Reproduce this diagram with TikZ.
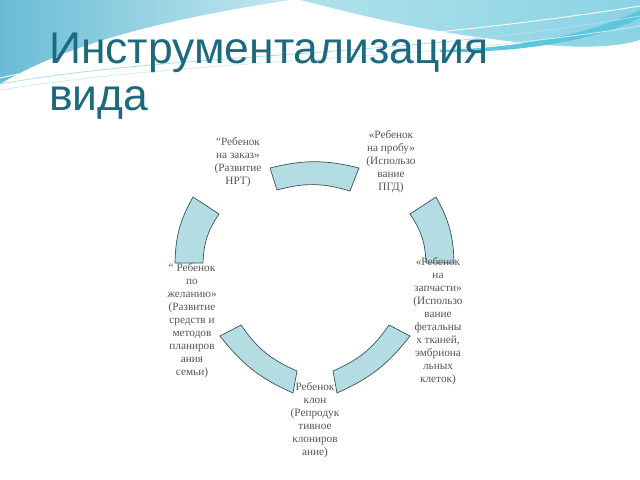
\documentclass[tikz,border=0pt]{standalone}
\usepackage{fontspec}
\setmainfont{Liberation Serif}
\newfontfamily\titlefam{Liberation Sans}
\definecolor{arcfill}{HTML}{B3DDE2}
\definecolor{arcdraw}{HTML}{3D5257}
\definecolor{textgray}{HTML}{555555}
\definecolor{titlecol}{HTML}{1D6A7E}
\definecolor{waveA}{HTML}{6ABCD4}
\definecolor{waveB}{HTML}{C4E8F1}
\definecolor{waveC}{HTML}{B0E1EC}
\definecolor{waveD}{HTML}{8AD3E4}
\definecolor{waveE}{HTML}{5CC6DE}
\begin{document}
\begin{tikzpicture}[x=0.025cm,y=-0.025cm,
  arcseg/.style={fill=arcfill, draw=arcdraw, line width=0.5pt, line join=miter},
  lbl/.style={font=\fontsize{8}{9.25}\selectfont, text=textgray, align=center, inner sep=0pt},
  titletext/.style={font=\titlefam\fontsize{31.6}{32}\selectfont, text=titlecol, inner sep=0pt, anchor=base west},
  streak/.style={line width=0.6pt}]
\useasboundingbox (0,0) rectangle (640,480);
\fill[white] (0,0) rectangle (640,480);
% background waves
\shade[left color=waveA, right color=waveB] (0,0) -- (290,0) .. controls (200,14) and (80,36) .. (0,84) -- cycle;
\shade[left color=waveC, right color=waveD] (300,0) -- (640,0) -- (640,40) .. controls (600,52) and (540,46) .. (470,36) .. controls (400,26) and (340,10) .. (300,0) -- cycle;
\fill[waveE] (440,50) .. controls (530,48) and (600,30) .. (640,10) -- (640,18) .. controls (600,38) and (530,53) .. (440,52) -- cycle;
\draw[streak, white] (0,78) .. controls (150,44) and (350,52) .. (640,6);
\draw[streak, waveD!70] (0,84) .. controls (180,52) and (400,58) .. (640,16);
\draw[streak, waveC!60] (0,90) .. controls (200,58) and (420,62) .. (640,26);
% title
\node[titletext] (title1) at (49,64) {Инструментализация};
\node[titletext] (title2) at (49,110) {вида};
% arc segments
\draw[arcseg] (270,168) to[bend left=14] (359,168) -- (350,191) to[bend right=16] (277,190) -- cycle;
\draw[arcseg] (436,197) to[bend left=14] (454,263) -- (426,263) to[bend right=16] (410,214) -- cycle;
\draw[arcseg] (410,336) to[bend left=14] (337,393) -- (333,371) to[bend right=16] (389,325) -- cycle;
\draw[arcseg] (293,393) to[bend left=14] (220,336) -- (241,325) to[bend right=16] (297,371) -- cycle;
\draw[arcseg] (175,263) to[bend left=14] (193,197) -- (219,214) to[bend right=16] (203,263) -- cycle;
% labels
\node[lbl] (t1) at (238,162) {“Ребенок\\на заказ»\\(Развитие\\НРТ)};
\node[lbl] (t2) at (391,162) {«Ребенок\\на пробу»\\(Использо\\вание\\ПГД)};
\node[lbl] (t3) at (438,321) {«Ребенок\\на\\запчасти»\\(Использо\\вание\\фетальны\\х тканей,\\эмбриона\\льных\\клеток)};
\node[lbl] (t4) at (192,321) {“ Ребенок\\по\\желанию»\\(Развитие\\средств и\\методов\\планиров\\ания\\семьи)};
\node[lbl] (t5) at (315,420) {Ребенок\\клон\\(Репродук\\тивное\\клониров\\ание)};
\end{tikzpicture}
\end{document}
